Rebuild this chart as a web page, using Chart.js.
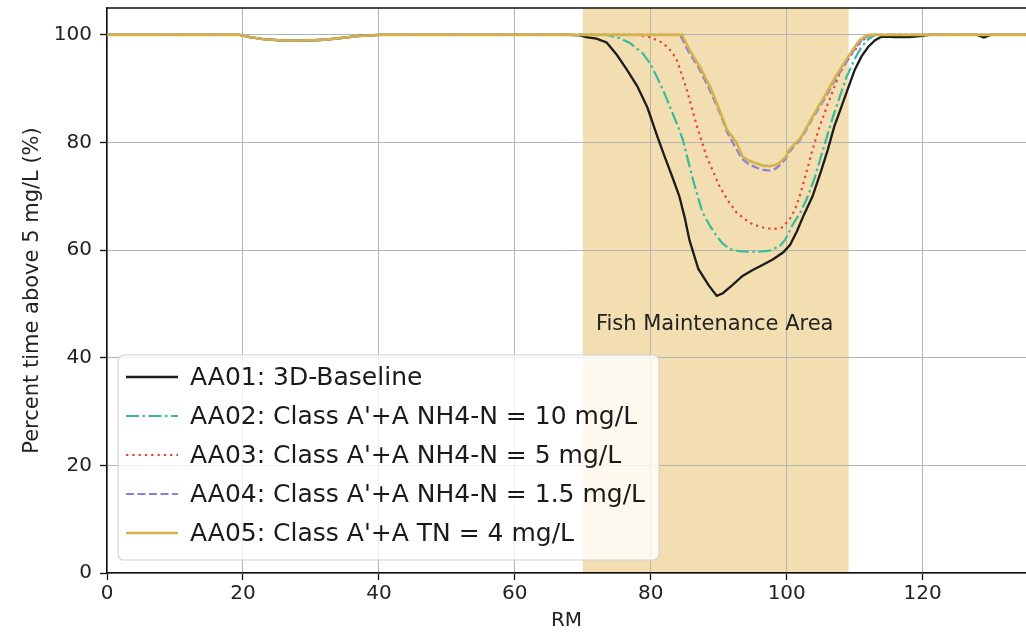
<!DOCTYPE html>
<html>
<head>
<meta charset="utf-8">
<script src="https://cdn.jsdelivr.net/npm/chart.js@4.4.0/dist/chart.umd.min.js"></script>
<style>
    html, body { margin: 0; padding: 0; background: #fff; }
    #chartContainer { width: 1026px; height: 634px; position: relative; }
</style>
</head>
<body>
<div id="chartContainer"><canvas id="doChart"></canvas></div>
<script>
// shared upstream reach (all scenarios identical there)
const upstreamRm  = [0, 10, 19.5, 21, 23, 26, 29, 32, 35, 37, 40, 50, 60, 68];
const upstreamPct = [100, 100, 100, 99.6, 99.2, 98.95, 98.95, 99.1, 99.5, 99.8, 100, 100, 100, 100];

const aa01Rm  = [69.5, 70.5, 72, 73.5, 75, 76.5, 78, 79.5, 81, 82, 83.2, 84.2, 85, 85.7, 87, 88.5, 89.7, 90.6, 92, 93.5, 95, 96.5, 98, 99.5, 100.5, 101.5, 102.5, 103.8, 105, 106, 107, 108, 109, 110, 111, 112, 113, 114, 116, 118, 120, 121, 128, 129, 130, 135.2];
const aa01Pct = [99.9, 99.6, 99.3, 98.6, 96.3, 93.5, 90.5, 86.5, 81.0, 77.5, 73.5, 70.0, 66.0, 61.8, 56.5, 53.5, 51.5, 52.0, 53.5, 55.2, 56.3, 57.3, 58.3, 59.6, 61.0, 63.5, 66.5, 70.0, 74.5, 78.5, 83.0, 86.5, 90.0, 93.5, 96.0, 97.8, 99.0, 99.7, 99.6, 99.6, 99.8, 100, 100, 99.5, 100, 100];

const aa02Rm  = [73.5, 75.4, 76.9, 78.8, 80, 80.9, 82, 82.8, 84, 84.7, 86.2, 87.6, 88.7, 89.7, 90.6, 91.6, 93, 94.5, 96, 97.5, 99, 99.8, 100.9, 102, 102.9, 104, 104.9, 105.9, 106.8, 107.8, 108.8, 110, 111, 112, 113, 135.2];
const aa02Pct = [100, 99.4, 98.5, 96.6, 94.5, 92.2, 89.2, 86.7, 83.0, 80.6, 73.1, 67.0, 64.5, 62.6, 61.2, 60.2, 59.8, 59.7, 59.7, 59.9, 60.8, 62.0, 64.8, 67.0, 69.4, 73.0, 76.8, 81.0, 84.8, 88.5, 92.2, 95.5, 97.8, 99.2, 100, 100];

const aa03Rm  = [78, 79.9, 81.8, 83, 83.8, 84.6, 85.3, 86.8, 88.2, 90.1, 91.3, 92.6, 94, 95, 96.5, 98, 99.3, 100.4, 101.2, 101.9, 102.9, 103.8, 104.8, 105.9, 107, 107.8, 108.8, 109.7, 110.8, 112, 135.2];
const aa03Pct = [100, 99.6, 98.5, 97.0, 95.4, 92.5, 89.8, 83.0, 77.4, 71.9, 69.3, 67.0, 65.6, 64.8, 64.2, 63.9, 64.2, 65.7, 67.5, 70.0, 74.5, 78.7, 82.8, 86.7, 90.3, 92.9, 95.0, 96.6, 98.5, 100, 100];

const aa04Rm  = [84.3, 85.5, 87, 88.5, 90, 91.2, 92.4, 93.4, 94.5, 95.6, 96.5, 97.5, 98.3, 99, 99.8, 100.4, 101.2, 101.9, 102.8, 103.8, 104.8, 105.9, 106.8, 107.8, 108.8, 109.7, 110.7, 111.6, 112.5, 135.2];
const aa04Pct = [100, 97.0, 94.0, 90.2, 86.0, 82.0, 79.2, 77.0, 75.9, 75.3, 74.9, 74.8, 75.1, 75.8, 76.9, 78.3, 79.5, 80.3, 82.2, 84.5, 86.6, 88.8, 91.0, 93.0, 95.0, 96.8, 98.6, 99.5, 100, 100];

const aa05Rm  = [84.6, 85.7, 87.2, 88.7, 90.1, 91.2, 92.6, 93.5, 94.5, 95.6, 96.5, 97.5, 98.3, 99, 99.8, 100.4, 101.2, 101.9, 102.8, 103.8, 104.8, 105.9, 106.8, 107.8, 108.8, 109.7, 110.7, 111.5, 112.3, 135.2];
const aa05Pct = [100, 97.2, 94.1, 90.4, 86.1, 82.4, 80.0, 77.4, 76.6, 76.1, 75.7, 75.6, 75.8, 76.3, 77.3, 78.7, 79.8, 80.6, 82.5, 84.8, 87.0, 89.3, 91.4, 93.5, 95.5, 97.2, 99.0, 99.7, 100, 100];

const scenarioLabels = [
    "AA01: 3D-Baseline",
    "AA02: Class A'+A NH4-N = 10 mg/L",
    "AA03: Class A'+A NH4-N = 5 mg/L",
    "AA04: Class A'+A NH4-N = 1.5 mg/L",
    "AA05: Class A'+A TN = 4 mg/L"
];
const fishAreaRange = [70, 109.1];
const yTicks = [0, 20, 40, 60, 80, 100];
const xTicks = [0, 20, 40, 60, 80, 100, 120];

const FONT = "'DejaVu Sans', sans-serif";

function toPoints(rm, pct) {
    return rm.map((x, i) => ({x, y: pct[i]}));
}

function series(label, rm, pct, color, width, dash, order) {
    return {
        label,
        data: toPoints(upstreamRm.concat(rm), upstreamPct.concat(pct)),
        borderColor: color,
        backgroundColor: color,
        borderWidth: width,
        borderDash: dash,
        pointRadius: 0,
        tension: 0,
        fill: false,
        order
    };
}

// shaded fish maintenance area + its label
const fishArea = {
    id: "fishArea",
    beforeDraw(chart, args, opts) {
        const {ctx, chartArea, scales: {x}} = chart;
        const x0 = x.getPixelForValue(opts.range[0]);
        const x1 = x.getPixelForValue(opts.range[1]);
        ctx.save();
        ctx.fillStyle = opts.color;
        ctx.fillRect(x0, chartArea.top, x1 - x0, chartArea.bottom - chartArea.top);
        ctx.restore();
    },
    afterDatasetsDraw(chart, args, opts) {
        const {ctx, scales: {x, y}} = chart;
        ctx.save();
        ctx.font = "21px " + FONT;
        ctx.fillStyle = "#222";
        ctx.textAlign = "center";
        ctx.textBaseline = "middle";
        ctx.fillText("Fish Maintenance Area", x.getPixelForValue(89.4), y.getPixelForValue(46.2));
        // top frame line
        ctx.strokeStyle = "#111";
        ctx.lineWidth = 1.5;
        ctx.beginPath();
        ctx.moveTo(chart.chartArea.left, chart.chartArea.top);
        ctx.lineTo(chart.chartArea.right, chart.chartArea.top);
        ctx.stroke();
        ctx.restore();
    }
};

// matplotlib-like legend box inside the plot
const boxLegend = {
    id: "boxLegend",
    afterDatasetsDraw(chart, args, o) {
        const {ctx} = chart;
        ctx.save();
        ctx.beginPath();
        ctx.roundRect(o.left, o.top, o.width, o.height, 6);
        ctx.fillStyle = "rgba(255,255,255,0.8)";
        ctx.fill();
        ctx.strokeStyle = "#d4d4d4";
        ctx.lineWidth = 1.2;
        ctx.stroke();
        ctx.font = "25px " + FONT;
        ctx.textBaseline = "middle";
        chart.data.datasets.forEach((ds, i) => {
            const yy = o.top + o.firstRow + i * o.rowGap;
            ctx.beginPath();
            ctx.setLineDash(ds.borderDash || []);
            ctx.strokeStyle = ds.borderColor;
            ctx.lineWidth = ds.borderWidth;
            ctx.moveTo(o.left + 8, yy);
            ctx.lineTo(o.left + 60, yy);
            ctx.stroke();
            ctx.setLineDash([]);
            ctx.fillStyle = "#1a1a1a";
            ctx.fillText(ds.label, o.left + 72, yy + 1);
        });
        ctx.restore();
    }
};

const ctx = document.getElementById("doChart").getContext("2d");

new Chart(ctx, {
    type: "line",
    data: {
        datasets: [
            series(scenarioLabels[0], aa01Rm, aa01Pct, "#1c1c1c", 2.3, [], 4),
            series(scenarioLabels[1], aa02Rm, aa02Pct, "#36bb9e", 2.2, [13, 3.5, 2.5, 3.5], 3),
            series(scenarioLabels[2], aa03Rm, aa03Pct, "#e8443a", 2.2, [2.3, 4], 2),
            series(scenarioLabels[3], aa04Rm, aa04Pct, "#8a7fdc", 2.2, [8, 3.5], 1),
            series(scenarioLabels[4], aa05Rm, aa05Pct, "#d3b24c", 2.6, [], 0)
        ]
    },
    options: {
        responsive: true,
        maintainAspectRatio: false,
        animation: false,
        layout: { padding: { top: 8, left: 0, right: 0, bottom: 0 } },
        plugins: {
            legend: { display: false },
            tooltip: { enabled: false },
            fishArea: { range: fishAreaRange, color: "rgb(242,222,177)" },
            boxLegend: { left: 118, top: 355, width: 541, height: 205, firstRow: 22, rowGap: 39 }
        },
        scales: {
            x: {
                type: "linear",
                min: 0,
                max: 135.2,
                afterBuildTicks: (scale) => { scale.ticks = xTicks.map(v => ({value: v})); },
                afterFit: (scale) => { scale.height = 61; scale.paddingLeft = 0; scale.paddingRight = 0; },
                ticks: { color: "#222", font: { family: FONT, size: 20 }, padding: 2, maxRotation: 0, autoSkip: false },
                grid: { color: "#b4b4b4", lineWidth: 1, tickColor: "#111", tickLength: 7, tickWidth: 1.3 },
                border: { color: "#111", width: 1.5 },
                title: { display: true, text: "RM", color: "#222", font: { family: FONT, size: 20 }, padding: { top: 0, bottom: 1 } }
            },
            y: {
                min: 0,
                max: 105,
                afterBuildTicks: (scale) => { scale.ticks = yTicks.map(v => ({value: v})); },
                afterFit: (scale) => { scale.width = 107; scale.paddingTop = 0; scale.paddingBottom = 0; },
                ticks: { color: "#222", font: { family: FONT, size: 20 }, padding: 8 },
                grid: { color: "#b4b4b4", lineWidth: 1, tickColor: "#111", tickLength: 7, tickWidth: 1.3 },
                border: { color: "#111", width: 1.5 },
                title: { display: true, text: "Percent time above 5 mg/L (%)", color: "#222", font: { family: FONT, size: 21 }, padding: { top: 20, bottom: 0 } }
            }
        }
    },
    plugins: [fishArea, boxLegend]
});
</script>
</body>
</html>
